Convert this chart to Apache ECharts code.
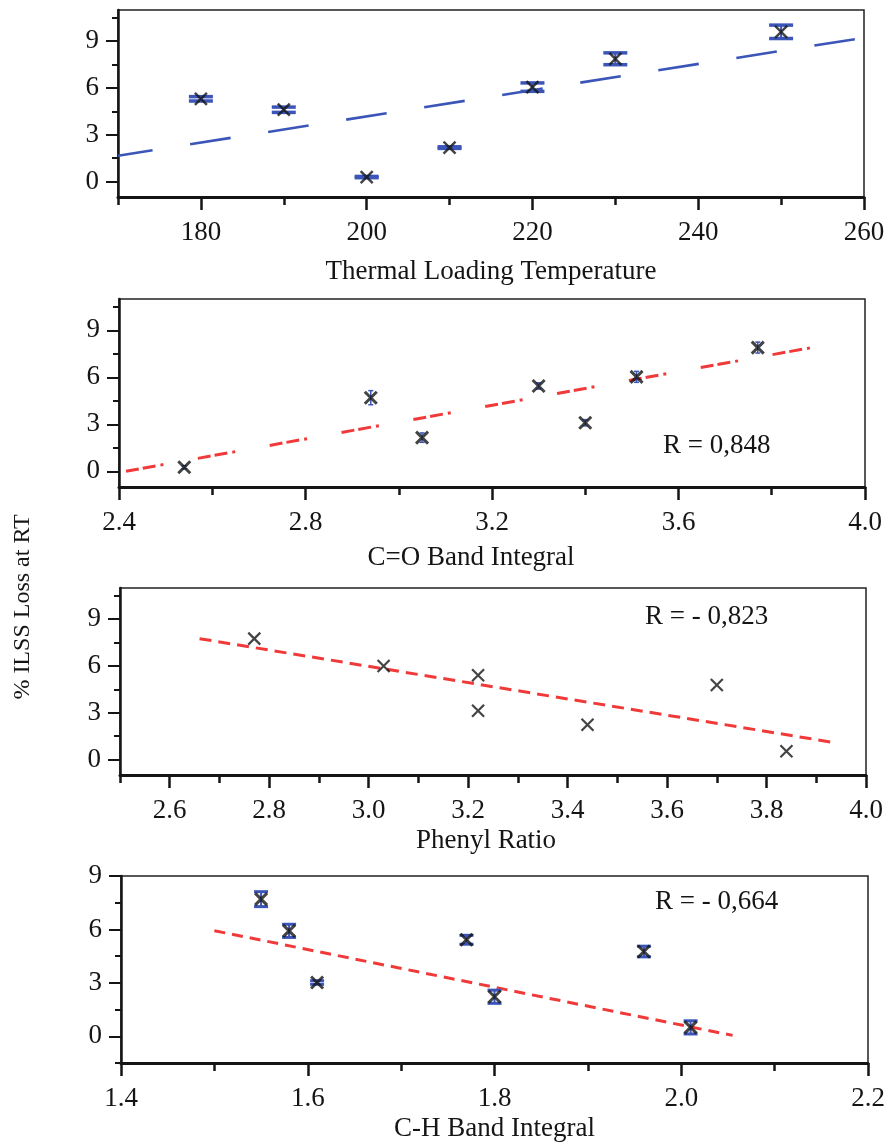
<!DOCTYPE html>
<html>
<head>
<meta charset="utf-8">
<script src="https://cdn.jsdelivr.net/npm/echarts@6.0.0/dist/echarts.min.js"></script>
<style>
  html, body { margin: 0; padding: 0; background: #fff; }
  #chart { width: 888px; height: 1143px; }
</style>
</head>
<body>
<div id="chart"></div>
<script>
// values
const lossTicks = [0, 3, 6, 9];

// panel 1: thermal loading temperature
const tempX = [180, 190, 200, 210, 220, 230, 250];
const tempLoss = [5.3, 4.6, 0.28, 2.17, 6.05, 7.87, 9.6];
const tempErr = [0.14, 0.17, 0.04, 0.05, 0.27, 0.38, 0.43];
const tempFitX = [170, 260];
const tempFitY = [1.65, 9.22];
const tempTicks = [180, 200, 220, 240, 260];
const tempMinor = [170, 190, 210, 230, 250];

// panel 2: C=O band integral
const coX = [2.54, 2.94, 3.05, 3.30, 3.40, 3.51, 3.77];
const coLoss = [0.26, 4.7, 2.15, 5.45, 3.1, 6.03, 7.9];
const coErr = [0.1, 0.45, 0.3, 0.2, 0.2, 0.35, 0.35];
const coFitX = [2.415, 3.895];
const coFitY = [0.0, 7.95];
const coTicks = [2.4, 2.8, 3.2, 3.6, 4.0];
const coMinor = [2.6, 3.0, 3.4, 3.8];
const coR = 'R = 0,848';

// panel 3: phenyl ratio
const phX = [2.77, 3.03, 3.22, 3.22, 3.44, 3.70, 3.84];
const phLoss = [7.75, 6.0, 5.4, 3.12, 2.23, 4.78, 0.53];
const phFitX = [2.66, 3.94];
const phFitY = [7.75, 1.06];
const phTicks = [2.6, 2.8, 3.0, 3.2, 3.4, 3.6, 3.8, 4.0];
const phMinor = [2.5, 2.7, 2.9, 3.1, 3.3, 3.5, 3.7, 3.9];
const phR = 'R = - 0,823';

// panel 4: C-H band integral
const chX = [1.55, 1.58, 1.61, 1.77, 1.80, 1.96, 2.01];
const chLoss = [7.7, 5.92, 3.02, 5.42, 2.22, 4.76, 0.5];
const chErr = [0.42, 0.37, 0.1, 0.25, 0.37, 0.3, 0.37];
const chFitX = [1.5, 2.055];
const chFitY = [5.93, 0.05];
const chTicks = [1.4, 1.6, 1.8, 2.0, 2.2];
const chMinor = [1.5, 1.7, 1.9, 2.1];
const chR = 'R = - 0,664';

const FONT = "'Liberation Serif', 'Times New Roman', serif";
const INK = '#151515';
const BLUE = '#3b55b8';
const RED = '#f03a3a';
const X_MARK = 'path://M0,0L10,10M10,0L0,10';

const grids = [
  { left: 118, top: 10, width: 746, height: 187 },
  { left: 119, top: 299, width: 746, height: 188 },
  { left: 120, top: 588, width: 746, height: 187 },
  { left: 121, top: 876, width: 747, height: 189 }
].map(g => Object.assign(g, { show: true, borderColor: '#222', borderWidth: 1.5 }));

const panels = [
  { xmin: 170, xmax: 260, ticks: tempTicks, minor: tempMinor, digits: 0, name: 'Thermal Loading Temperature', nameGap: 61, namePad: 0, ymin: -1, ymax: 11, yMinor: [1.5, 4.5, 7.5, 10.5] },
  { xmin: 2.4, xmax: 4.0, ticks: coTicks, minor: coMinor, digits: 1, name: 'C=O Band Integral', nameGap: 57, namePad: 42, ymin: -1, ymax: 11, yMinor: [1.5, 4.5, 7.5, 10.5] },
  { xmin: 2.5, xmax: 4.0, ticks: phTicks, minor: phMinor, digits: 1, name: 'Phenyl Ratio', nameGap: 52, namePad: 14, ymin: -1, ymax: 11, yMinor: [1.5, 4.5, 7.5, 10.5] },
  { xmin: 1.4, xmax: 2.2, ticks: chTicks, minor: chMinor, digits: 1, name: 'C-H Band Integral', nameGap: 52, namePad: 0, ymin: -1.5, ymax: 9, yMinor: [-1.5, 1.5, 4.5, 7.5] }
];

const xAxes = [];
const yAxes = [];
panels.forEach((p, i) => {
  xAxes.push({
    type: 'value', gridIndex: i, position: 'bottom', min: p.xmin, max: p.xmax,
    splitLine: { show: false },
    axisLine: { onZero: false, lineStyle: { color: INK, width: 3 } },
    axisTick: { customValues: p.ticks, length: 13, lineStyle: { color: INK, width: 2.5 } },
    axisLabel: {
      customValues: p.ticks, margin: 22, color: INK, fontFamily: FONT, fontSize: 27,
      formatter: v => Number(v).toFixed(p.digits)
    },
    name: p.name, nameLocation: 'middle', nameGap: p.nameGap,
    nameTextStyle: { color: INK, fontFamily: FONT, fontSize: 27, padding: [0, p.namePad, 0, 0] }
  });
  xAxes.push({
    type: 'value', gridIndex: i, position: 'bottom', min: p.xmin, max: p.xmax,
    splitLine: { show: false }, axisLine: { show: false, onZero: false },
    axisTick: { customValues: p.minor, length: 8, lineStyle: { color: INK, width: 2.5 } },
    axisLabel: { show: false }
  });
  yAxes.push({
    type: 'value', gridIndex: i, position: 'left', min: p.ymin, max: p.ymax,
    splitLine: { show: false },
    axisLine: { onZero: false, lineStyle: { color: INK, width: 2.5 } },
    axisTick: { customValues: lossTicks, length: 12, lineStyle: { color: INK, width: 2 } },
    axisLabel: { customValues: lossTicks, margin: 19, color: INK, fontFamily: FONT, fontSize: 27 }
  });
  yAxes.push({
    type: 'value', gridIndex: i, position: 'left', min: p.ymin, max: p.ymax,
    splitLine: { show: false }, axisLine: { show: false, onZero: false },
    axisTick: { customValues: p.yMinor, length: 6, lineStyle: { color: INK, width: 2 } },
    axisLabel: { show: false }
  });
});

function zip(a, b, c) {
  return a.map((v, k) => c ? [v, b[k], c[k]] : [v, b[k]]);
}

function errorBars(i, xs, ys, es, capW, capLw, lw) {
  return {
    type: 'custom', xAxisIndex: 2 * i, yAxisIndex: 2 * i, z: 2, silent: true,
    data: zip(xs, ys, es),
    renderItem: (params, api) => {
      const x = api.value(0), y = api.value(1), e = api.value(2);
      const top = api.coord([x, y + e]);
      const bot = api.coord([x, y - e]);
      const half = capW / 2;
      return {
        type: 'group',
        children: [
          { type: 'line', shape: { x1: top[0], y1: top[1], x2: bot[0], y2: bot[1] }, style: { stroke: BLUE, lineWidth: lw } },
          { type: 'line', shape: { x1: top[0] - half, y1: top[1], x2: top[0] + half, y2: top[1] }, style: { stroke: BLUE, lineWidth: capLw } },
          { type: 'line', shape: { x1: bot[0] - half, y1: bot[1], x2: bot[0] + half, y2: bot[1] }, style: { stroke: BLUE, lineWidth: capLw } }
        ]
      };
    }
  };
}

function marks(i, xs, ys, size, width) {
  return {
    type: 'scatter', xAxisIndex: 2 * i, yAxisIndex: 2 * i, z: 3, silent: true,
    symbol: X_MARK, symbolSize: size,
    itemStyle: { color: 'rgba(0,0,0,0)', borderColor: INK, borderWidth: width },
    data: zip(xs, ys)
  };
}

function fit(i, xs, ys, color, width, dash, offset) {
  return {
    type: 'line', xAxisIndex: 2 * i, yAxisIndex: 2 * i, z: 1, silent: true,
    symbol: 'none', data: zip(xs, ys),
    lineStyle: { color: color, width: width, type: dash, dashOffset: offset || 0, cap: 'butt' }
  };
}

const series = [
  fit(0, tempFitX, tempFitY, BLUE, 2.6, [41, 38], 6),
  errorBars(0, tempX, tempLoss, tempErr, 24, 3.5, 2),
  marks(0, tempX, tempLoss, 12, 2.5),

  fit(1, coFitX, coFitY, RED, 3, [13, 4, 13, 5, 3, 35]),
  errorBars(1, coX, coLoss, coErr, 5, 1.5, 1.5),
  marks(1, coX, coLoss, 12, 3),

  fit(2, phFitX, phFitY, RED, 3, [12, 7]),
  marks(2, phX, phLoss, 12, 2.2),

  fit(3, chFitX, chFitY, RED, 3, [11, 7]),
  errorBars(3, chX, chLoss, chErr, 14, 3, 2),
  marks(3, chX, chLoss, 12, 3)
];

const textStyle = (t) => ({ text: t, fill: INK, font: '27px ' + FONT, textVerticalAlign: 'middle' });

const chart = echarts.init(document.getElementById('chart'));
chart.setOption({
  animation: false,
  backgroundColor: '#fff',
  grid: grids,
  xAxis: xAxes,
  yAxis: yAxes,
  series: series,
  graphic: [
    { type: 'text', left: 663, top: 432, style: textStyle(coR) },
    { type: 'text', left: 645, top: 603, style: textStyle(phR) },
    { type: 'text', left: 655, top: 888, style: textStyle(chR) },
    {
      type: 'text', x: 23, y: 607, rotation: Math.PI / 2,
      style: { text: '% ILSS Loss at RT', fill: INK, font: '24px ' + FONT, textAlign: 'center', textVerticalAlign: 'middle' }
    }
  ]
});
</script>
</body>
</html>
